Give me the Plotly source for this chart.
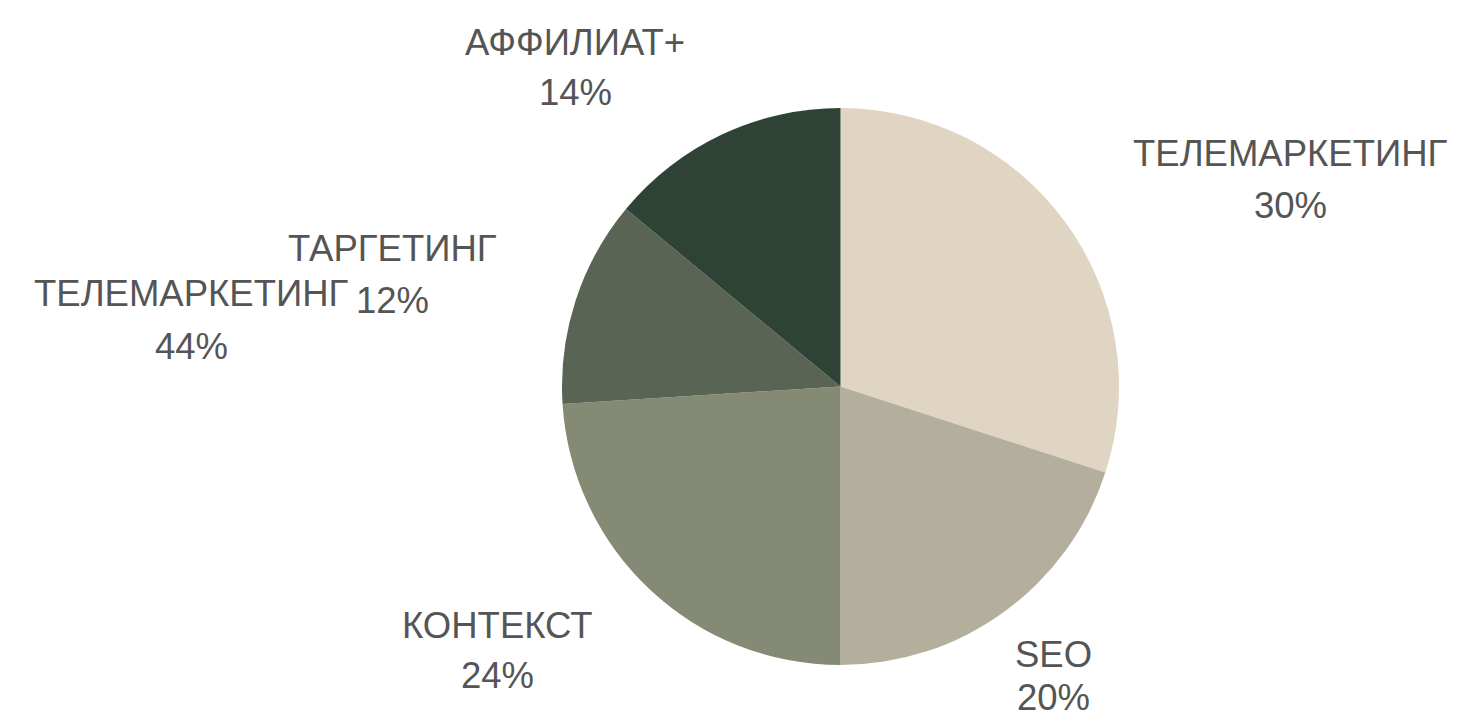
import plotly.graph_objects as go

# ---- data ----
labels = ["ТЕЛЕМАРКЕТИНГ", "SEO", "КОНТЕКСТ", "ТАРГЕТИНГ", "АФФИЛИАТ+"]
values = [30, 20, 24, 12, 14]
colors = ["#e0d4c3", "#b4ae9c", "#858a75", "#5a6454", "#2e4336"]

# stray label visible in the original picture
extra_label = "ТЕЛЕМАРКЕТИНГ"
extra_value = 44

# ---- layout helpers ----
# the page body has an 8px margin, so the figure is drawn 8px in from the corner
OFF = 8
W, H = 1465 - OFF, 721 - OFF

# pixel positions (in the full window) of label centres: x, name line y, percent line y
label_pos = {
    "ТЕЛЕМАРКЕТИНГ": (1290, 153, 205),
    "SEO": (1053, 654, 697),
    "КОНТЕКСТ": (497, 625, 675),
    "ТАРГЕТИНГ": (392, 248, 300),
    "АФФИЛИАТ+": (575, 42, 92),
}
extra_pos = (191, 294, 346)


def px(x):
    return (x - OFF) / W


def py(y):
    return 1 - (y - OFF) / H


fig = go.Figure(go.Pie(
    labels=labels,
    values=values,
    marker=dict(colors=colors, line=dict(width=0)),
    sort=False,
    direction="clockwise",
    rotation=0,
    textinfo="none",
    hoverinfo="label+percent",
    showlegend=False,
    domain=dict(x=[px(562), px(1119)], y=[py(665), py(108)]),
))

font = dict(family="Liberation Sans, Arial, sans-serif", size=36.5, color="#555555")
total = sum(values)
anns = []
for lab, val in zip(labels, values):
    cx, y1, y2 = label_pos[lab]
    pct = f"{round(100 * val / total)}%"
    for txt, yy in ((lab, y1), (pct, y2)):
        anns.append(dict(x=px(cx), y=py(yy), xref="paper", yref="paper",
                         text=txt, showarrow=False, xanchor="center",
                         yanchor="middle", borderpad=0, font=font))
cx, y1, y2 = extra_pos
for txt, yy in ((extra_label, y1), (f"{extra_value}%", y2)):
    anns.append(dict(x=px(cx), y=py(yy), xref="paper", yref="paper",
                     text=txt, showarrow=False, xanchor="center",
                     yanchor="middle", borderpad=0, font=font))

fig.update_layout(
    width=W, height=H,
    margin=dict(l=0, r=0, t=0, b=0),
    paper_bgcolor="white",
    plot_bgcolor="white",
    annotations=anns,
)

fig.write_html("out.html")
